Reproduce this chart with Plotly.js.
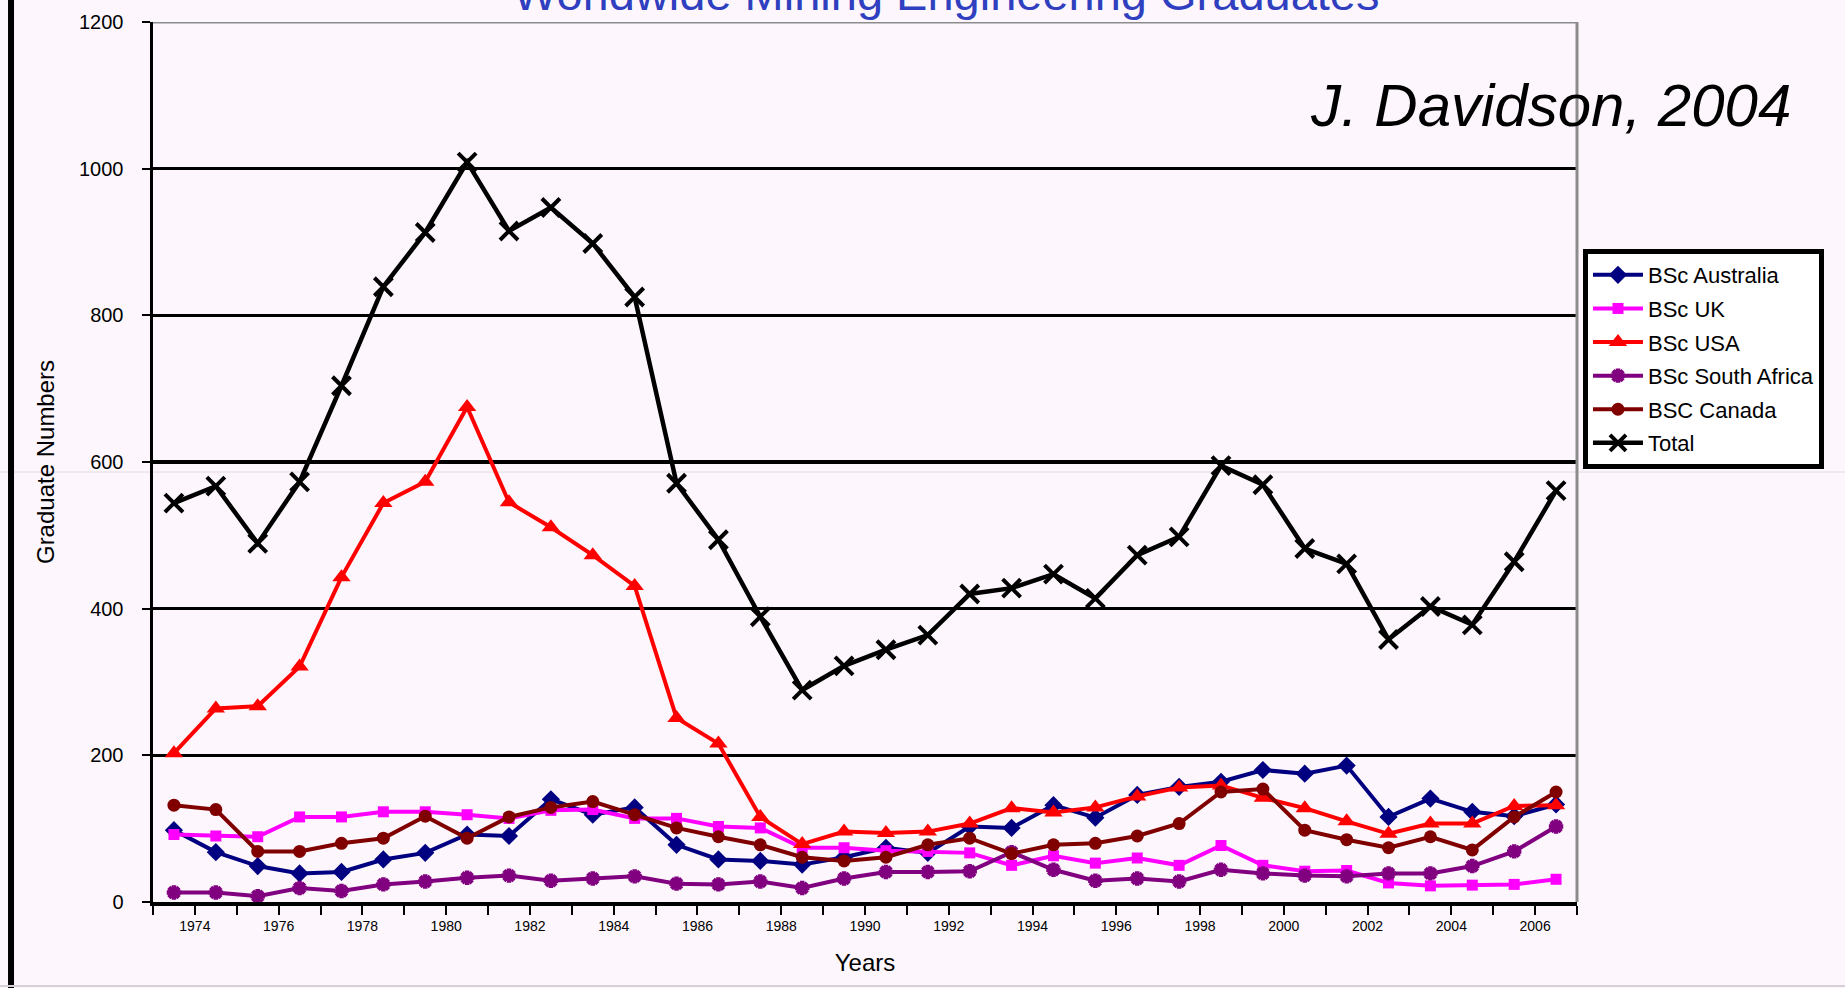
<!DOCTYPE html>
<html>
<head>
<meta charset="utf-8">
<script src="https://cdn.plot.ly/plotly-3.0.1.min.js"></script>
<style>
  html, body { margin: 0; padding: 0; background: #fdf7fd; }
  #chart { width: 1845px; height: 988px; }
</style>
</head>
<body>
<div id="chart"></div>
<script>
// ---- Data ----
const years = [1973, 1974, 1975, 1976, 1977, 1978, 1979, 1980, 1981, 1982, 1983, 1984,
               1985, 1986, 1987, 1988, 1989, 1990, 1991, 1992, 1993, 1994, 1995,
               1996, 1997, 1998, 1999, 2000, 2001, 2002, 2003, 2004, 2005, 2006];

const bscAustralia = [98, 68, 49, 39, 41, 58, 67, 92, 90, 140, 119, 129,
                      78, 58, 56, 51, 61, 74, 67, 103, 101, 132, 115,
                      146, 157, 164, 180, 175, 186, 116, 141, 123, 117, 133];

const bscUK = [92, 90, 89, 116, 116, 123, 123, 119, 114, 125, 126, 114,
               114, 103, 101, 74, 74, 70, 69, 67, 50, 63, 53,
               60, 50, 77, 50, 42, 43, 26, 22, 23, 24, 31];

const bscUSA = [203, 264, 267, 321, 443, 544, 573, 675, 545, 511, 473, 431,
                251, 216, 116, 79, 96, 94, 96, 107, 128, 122, 129,
                144, 156, 159, 142, 128, 110, 93, 107, 107, 131, 132];

const bscSouthAfrica = [13, 13, 8, 19, 15, 24, 28, 33, 36, 29, 32, 35,
                        25, 24, 28, 19, 32, 41, 41, 42, 68, 44, 29,
                        32, 28, 44, 39, 36, 35, 39, 39, 49, 69, 103];

const bscCanada = [132, 126, 69, 69, 80, 87, 117, 87, 116, 129, 137, 119,
                   101, 89, 78, 61, 56, 61, 78, 87, 66, 78, 80,
                   90, 107, 150, 154, 98, 85, 74, 89, 71, 116, 150];

const total = [544, 567, 489, 573, 704, 839, 913, 1009, 915, 947, 898, 825,
               571, 494, 389, 289, 322, 344, 364, 420, 428, 447, 414,
               473, 498, 595, 569, 482, 461, 358, 403, 378, 464, 561];

const tickYears = [1974, 1976, 1978, 1980, 1982, 1984, 1986, 1988, 1990, 1992,
                   1994, 1996, 1998, 2000, 2002, 2004, 2006];
const tickLabels = ["1974", "1976", "1978", "1980", "1982", "1984", "1986", "1988", "1990", "1992",
                    "1994", "1996", "1998", "2000", "2002", "2004", "2006"];
const yTickVals = [0, 200, 400, 600, 800, 1000, 1200];

const seriesNames = ["BSc Australia", "BSc UK", "BSc USA", "BSc South Africa", "BSC Canada", "Total"];

// Points sit midway between yearly tick marks (Excel-style category placement)
const xPos = years.map(y => y + 0.5);

const FONT = "Arial, 'Liberation Sans', sans-serif";

function series(name, values, color, symbol, size, lw, extraMarker) {
  return {
    type: 'scatter', mode: 'lines+markers', name: name, legendgroup: name,
    x: xPos, y: values,
    line: { color: color, width: lw },
    marker: Object.assign({ color: color, symbol: symbol, size: size, line: { width: 0, color: color } }, extraMarker || {}),
    hoverinfo: 'x+y+name'
  };
}

const traces = [
  series(seriesNames[0], bscAustralia, '#000080', 'diamond', 14, 4),
  series(seriesNames[1], bscUK, '#ff00ff', 'square', 11, 4),
  series(seriesNames[2], bscUSA, '#ff0000', 'triangle-up', 16, 4),
  series(seriesNames[3], bscSouthAfrica, '#800080', 'asterisk-open', 12, 4, { line: { width: 4.5, color: '#800080' } }),
  series(seriesNames[4], bscCanada, '#800000', 'circle', 13, 4),
  series(seriesNames[5], total, '#000000', 'x-thin-open', 18, 4.5, { line: { width: 4, color: '#000000' } })
];

const layout = {
  width: 1845, height: 988, autosize: false,
  margin: { l: 153, r: 268, t: 22, b: 86, pad: 0 },
  paper_bgcolor: '#fdf7fd',
  plot_bgcolor: '#fdf7fd',
  font: { family: FONT, color: '#000000' },
  showlegend: true,
  legend: {
    x: 1.0042, y: 0.742, xanchor: 'left', yanchor: 'top',
    bgcolor: '#ffffff', bordercolor: '#000000', borderwidth: 5,
    font: { family: FONT, size: 22, color: '#000000' },
    traceorder: 'grouped', tracegroupgap: 2,
    itemsizing: 'trace', itemwidth: 50
  },
  xaxis: {
    range: [1973, 2007],
    tickmode: 'array', tickvals: tickYears, ticktext: tickLabels,
    ticks: 'outside', ticklen: 9, tickwidth: 2, tickcolor: '#000000',
    minor: { tickmode: 'linear', tick0: 1973, dtick: 1, ticks: 'outside', ticklen: 9, tickwidth: 2, tickcolor: '#000000', showgrid: false },
    showgrid: false, zeroline: false,
    showline: true, linecolor: '#000000', linewidth: 3.5,
    tickfont: { family: FONT, size: 14, color: '#000000' },
    title: { text: 'Years', font: { family: FONT, size: 24, color: '#000000' }, standoff: 22 },
    fixedrange: true
  },
  yaxis: {
    range: [0, 1200],
    tickmode: 'array', tickvals: yTickVals,
    ticks: 'outside', ticklen: 8, tickwidth: 2, tickcolor: '#000000',
    ticklabelstandoff: 14,
    showgrid: true, gridcolor: '#000000', gridwidth: 3.5,
    zeroline: false,
    showline: true, linecolor: '#000000', linewidth: 3.5,
    tickfont: { family: FONT, size: 20, color: '#000000' },
    title: { text: 'Graduate Numbers', font: { family: FONT, size: 24, color: '#000000' }, standoff: 18 },
    fixedrange: true
  },
  annotations: [
    {
      text: 'Worldwide Mining Engineering Graduates',
      xref: 'paper', yref: 'paper', x: 0.557, y: 1.032,
      xanchor: 'center', yanchor: 'middle', showarrow: false,
      font: { family: FONT, size: 47, color: '#2f3fbf' }
    },
    {
      text: '<i>J. Davidson, 2004</i>',
      xref: 'paper', yref: 'paper', x: 0.9817, y: 0.905,
      xanchor: 'center', yanchor: 'middle', showarrow: false,
      font: { family: FONT, size: 60, color: '#000000' }
    }
  ],
  shapes: [
    // top plot border (gray)
    { type: 'line', xref: 'paper', yref: 'y', x0: 0, x1: 1, y0: 1200, y1: 1200,
      line: { color: '#8c8c8c', width: 3 } },
    // right plot border (gray)
    { type: 'line', xref: 'paper', yref: 'paper', x0: 1, x1: 1, y0: 0, y1: 1,
      line: { color: '#8c8c8c', width: 3 } },
    // thick black frame line at the far left
    { type: 'line', xref: 'paper', yref: 'paper', x0: -0.0997, x1: -0.0997, y0: -0.1, y1: 1.03,
      line: { color: '#000000', width: 6 } },
    // faint seam line across the picture
    { type: 'line', xref: 'paper', yref: 'paper', x0: -0.11, x1: 1.19, y0: 0.4886, y1: 0.4886,
      layer: 'below', line: { color: '#e2dae2', width: 1 } },
    // faint bottom edge line
    { type: 'line', xref: 'paper', yref: 'paper', x0: -0.11, x1: 1.19, y0: -0.0955, y1: -0.0955,
      line: { color: '#d6d0d6', width: 2 } }
  ]
};

Plotly.newPlot('chart', traces, layout, { displayModeBar: false, staticPlot: true });
</script>
</body>
</html>
